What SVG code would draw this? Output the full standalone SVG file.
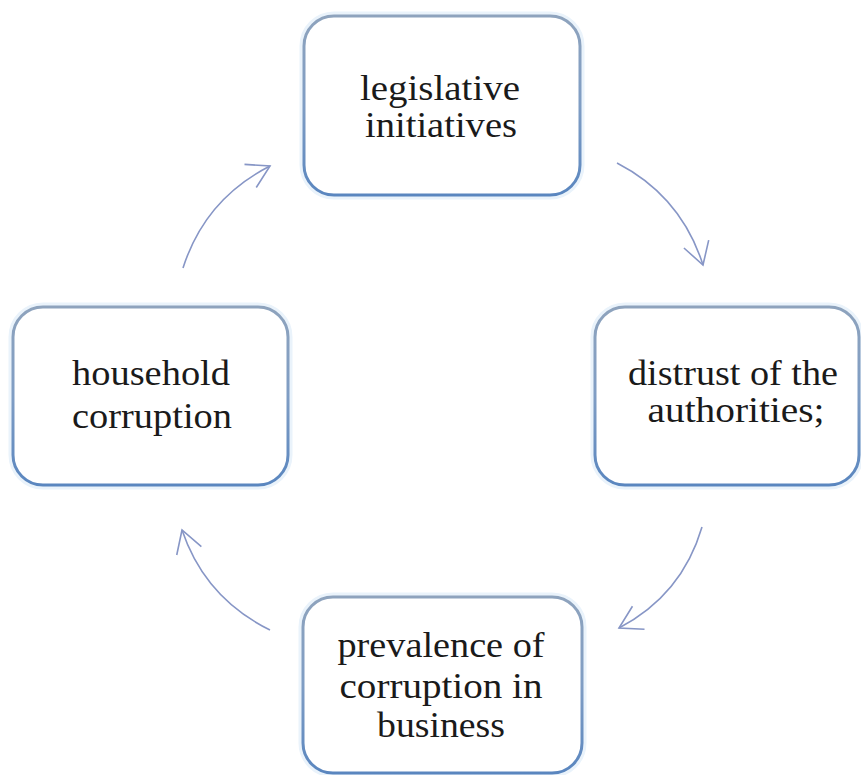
<svg xmlns="http://www.w3.org/2000/svg" width="861" height="775" viewBox="0 0 861 775">
  <style>
    .box { fill: #ffffff; stroke: url(#edge); stroke-width: 3; }
    .halo { fill: none; stroke: #eaf3fb; stroke-width: 9; }
    .label { font-family: 'Liberation Serif', 'Times New Roman', 'DejaVu Serif', serif; font-size: 36px; fill: #1a1a1a; text-anchor: middle; }
    .flow { fill: none; stroke: #8796c6; stroke-width: 1.6; marker-end: url(#head); }
  </style>
  <defs>
    <linearGradient id="edge" x1="0" y1="0" x2="0" y2="1">
      <stop offset="0" stop-color="#8ea3bd"/>
      <stop offset="0.5" stop-color="#7f9dc4"/>
      <stop offset="1" stop-color="#5a86bf"/>
    </linearGradient>
    <marker id="head" markerUnits="userSpaceOnUse" markerWidth="40" markerHeight="40" refX="0" refY="0" viewBox="-30 -20 40 40" orient="auto">
      <path d="M-22,-13 L0,0 L-22,13" fill="none" stroke="#8796c6" stroke-width="1.6"/>
    </marker>
  </defs>

  <rect width="861" height="775" fill="#ffffff"/>

  <g id="legislative-initiatives">
    <rect class="halo" x="304" y="16" width="276" height="179" rx="30"/>
    <rect class="box" x="304" y="16" width="276" height="179" rx="30"/>
    <text class="label" x="440" y="100" textLength="160" lengthAdjust="spacingAndGlyphs">legislative</text>
    <text class="label" x="441" y="137" textLength="152" lengthAdjust="spacingAndGlyphs">initiatives</text>
  </g>

  <g id="distrust-of-authorities">
    <rect class="halo" x="595" y="307" width="264" height="178" rx="30"/>
    <rect class="box" x="595" y="307" width="264" height="178" rx="30"/>
    <text class="label" x="733" y="385" textLength="210" lengthAdjust="spacingAndGlyphs">distrust of the</text>
    <text class="label" x="736" y="422" textLength="177" lengthAdjust="spacingAndGlyphs">authorities;</text>
  </g>

  <g id="business-corruption">
    <rect class="halo" x="303" y="597" width="279" height="176" rx="30"/>
    <rect class="box" x="303" y="597" width="279" height="176" rx="30"/>
    <text class="label" x="441" y="657" textLength="207" lengthAdjust="spacingAndGlyphs">prevalence of</text>
    <text class="label" x="441" y="698" textLength="203" lengthAdjust="spacingAndGlyphs">corruption in</text>
    <text class="label" x="441" y="737" textLength="128" lengthAdjust="spacingAndGlyphs">business</text>
  </g>

  <g id="household-corruption">
    <rect class="halo" x="13" y="307" width="275" height="178" rx="30"/>
    <rect class="box" x="13" y="307" width="275" height="178" rx="30"/>
    <text class="label" x="151" y="385" textLength="158" lengthAdjust="spacingAndGlyphs">household</text>
    <text class="label" x="152" y="428" textLength="160" lengthAdjust="spacingAndGlyphs">corruption</text>
  </g>

  <g id="connectors">
    <path class="flow" d="M617,163 Q681,196 703,265"/>
    <path class="flow" d="M702,527 Q682,595 619,628"/>
    <path class="flow" d="M270,630 Q205,598 182,530"/>
    <path class="flow" d="M183,268 Q205,199 270,166"/>
  </g>
</svg>
